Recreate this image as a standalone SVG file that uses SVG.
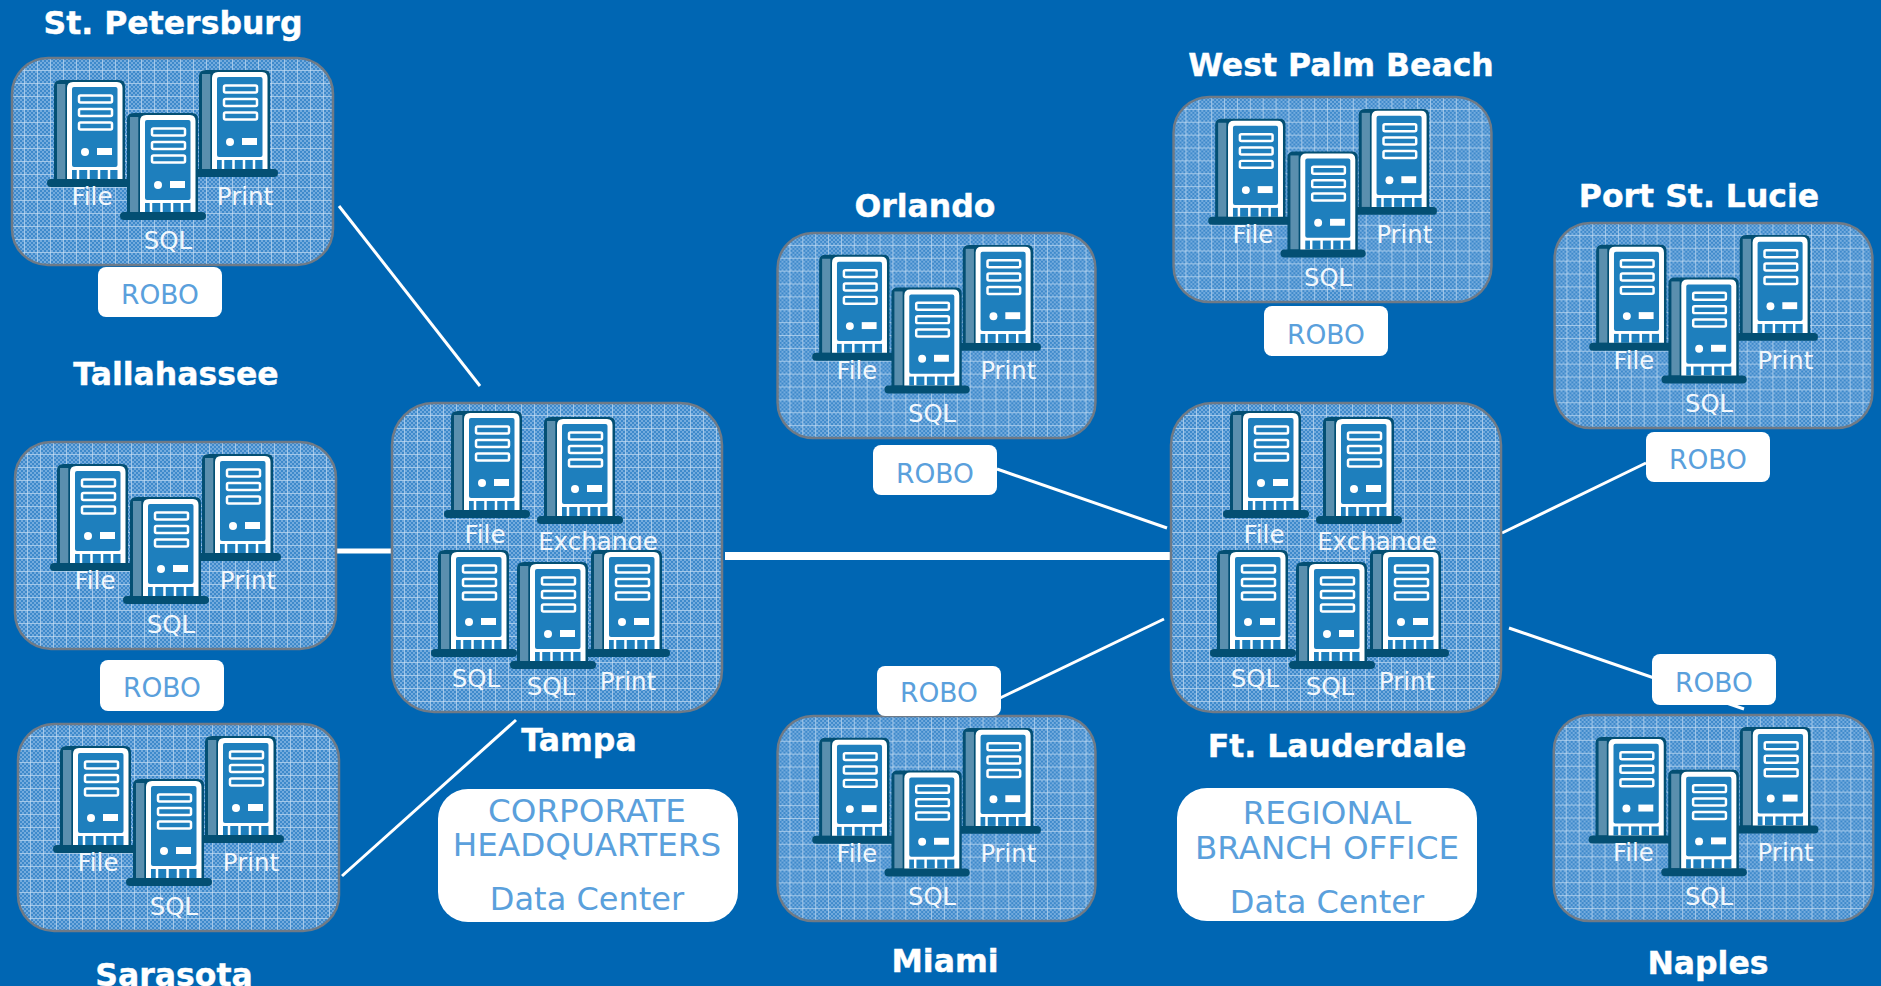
<svg xmlns="http://www.w3.org/2000/svg" width="1881" height="986" viewBox="0 0 1881 986">
<style>
text{font-family:"DejaVu Sans","Liberation Sans",sans-serif;text-anchor:middle}
.t{font-size:31.500px;font-weight:bold;fill:#fff;stroke:#fff;stroke-width:.4}
.l{font-size:24.500px;fill:#f2f7fc}
.r{font-size:26.500px;fill:#5aa0dc}
.b{font-size:32.600px;fill:#5aa0dc}
.d{font-size:32px;fill:#5aa0dc}
.panel{fill:url(#mesh);stroke:#6f7a86;stroke-width:2.500}
.robo{fill:#fff}
.c{stroke:#fff;fill:none;stroke-width:3}
</style>
<defs>
<pattern id="mesh" width="13" height="13" patternUnits="userSpaceOnUse">
<rect width="13" height="13" fill="#74abdd"/>
<path d="M0 0h2v2h-2zM4 0h2v2h-2zM8 0h2v2h-2zM2 2h2v2h-2zM6 2h2v2h-2zM10 2h2v2h-2zM0 4h2v2h-2zM4 4h2v2h-2zM8 4h2v2h-2zM2 6h2v2h-2zM6 6h2v2h-2zM10 6h2v2h-2zM0 8h2v2h-2zM4 8h2v2h-2zM8 8h2v2h-2zM2 10h2v2h-2zM6 10h2v2h-2zM10 10h2v2h-2z" fill="#3f8acb"/>
<path d="M12.500 0V13M0 12.500H13" stroke="#dcebf8" stroke-width="1" stroke-opacity=".45"/>
</pattern>
<symbol id="srv" width="86" height="107" viewBox="0 0 86 107" overflow="visible">
<path d="M7 107V6Q7 0 14 0H72Q78 0 78 6V100H7Z" fill="#034f73"/>
<rect x="10" y="4" width="8.300" height="95" fill="#5a8fae"/>
<path d="M20 100V8Q20 2 26 2H70Q75.500 2 75.500 8V100Z" fill="#fff"/>
<rect x="25" y="7" width="45.500" height="80" rx="2" fill="#1e7fbd"/>
<g fill="none" stroke="#fff" stroke-width="2.500">
<rect x="32" y="15.500" width="33" height="7" rx="1.500"/>
<rect x="32" y="29" width="33" height="7" rx="1.500"/>
<rect x="32" y="42.500" width="33" height="7" rx="1.500"/>
</g>
<circle cx="38" cy="72" r="4" fill="#fff"/>
<rect x="50" y="68" width="15" height="7" fill="#fff"/>
<rect x="25" y="90" width="45.500" height="9" fill="#1e7fbd"/>
<path d="M31 89V99M41.500 89V99M52 89V99M62 89V99" stroke="#fff" stroke-width="2.500"/>
<rect x="0" y="99" width="86" height="8" rx="4" fill="#034f73"/>
</symbol>
<symbol id="trio" width="321" height="207" viewBox="0 0 321 207" overflow="visible">
<rect class="panel" x="0" y="0" width="321" height="207" rx="36"/>
<use href="#srv" x="35" y="22" width="86" height="107"/>
<use href="#srv" x="180" y="12" width="86" height="107"/>
<use href="#srv" x="108" y="55" width="86" height="107"/>
<text class="l" x="80" y="147">File</text>
<text class="l" x="233" y="147">Print</text>
<text class="l" x="156" y="191">SQL</text>
</symbol>
<symbol id="five" width="330" height="309" viewBox="0 0 330 309" overflow="visible">
<rect class="panel" x="0" y="0" width="330" height="309" rx="42"/>
<use href="#srv" x="52" y="8" width="86" height="107"/>
<use href="#srv" x="145" y="14" width="86" height="107"/>
<text class="l" x="93" y="140">File</text>
<text class="l" x="206" y="147" clip-path="url(#exclip)">Exchange</text>
<use href="#srv" x="39" y="147" width="86" height="107"/>
<use href="#srv" x="192" y="147" width="86" height="107"/>
<use href="#srv" x="118" y="159" width="86" height="107"/>
<text class="l" x="84" y="284">SQL</text>
<text class="l" x="159" y="292">SQL</text>
<text class="l" x="236" y="287">Print</text>
</symbol>
<clipPath id="exclip"><rect x="140" y="110" width="140" height="38"/></clipPath>
</defs>
<rect width="1881" height="986" fill="#0066b3"/>
<g id="connectors">
<path class="c" d="M339 206L480 386"/>
<path class="c" style="stroke-width:5" d="M337 551H392"/>
<path class="c" d="M342 876L516 720"/>
<path class="c" style="stroke-width:8" d="M725 556H1170"/>
<path class="c" d="M997 469L1167 528"/>
<path class="c" d="M1000 698L1164 619"/>
<path class="c" d="M1502 533L1646 463"/>
<path class="c" d="M1509 628L1744 709"/>
</g>
<g id="st-petersburg"><use href="#trio" x="12" y="58" width="321" height="207"/><text class="t" x="173" y="34">St. Petersburg</text><rect class="robo" x="98" y="267" width="124" height="50" rx="8"/><text class="r" x="160" y="304">ROBO</text></g>
<g id="tallahassee"><use href="#trio" x="15" y="442" width="321" height="207"/><text class="t" x="176" y="385">Tallahassee</text><rect class="robo" x="100" y="660" width="124" height="51" rx="8"/><text class="r" x="162" y="697">ROBO</text></g>
<g id="sarasota"><use href="#trio" x="18" y="724" width="321" height="207"/><text class="t" x="174" y="986">Sarasota</text></g>
<g id="tampa"><use href="#five" x="392" y="403" width="330" height="309"/><text class="t" x="579" y="751">Tampa</text></g>
<g id="corporate-hq"><rect class="robo" x="438" y="789" width="300" height="133" rx="30"/><text class="b" x="587" y="822">CORPORATE</text><text class="b" x="587" y="856">HEADQUARTERS</text><text class="d" x="587" y="910">Data Center</text></g>
<g id="orlando"><use href="#trio" x="776" y="233" width="321" height="205"/><text class="t" x="925" y="217">Orlando</text><rect class="robo" x="873" y="445" width="124" height="50" rx="8"/><text class="r" x="935" y="483">ROBO</text></g>
<g id="miami"><use href="#trio" x="776" y="716" width="321" height="205"/><text class="t" x="945" y="972">Miami</text><rect class="robo" x="877" y="666" width="124" height="50" rx="8"/><text class="r" x="939" y="702">ROBO</text></g>
<g id="west-palm-beach"><use href="#trio" x="1172" y="97" width="321" height="205"/><text class="t" x="1341" y="76">West Palm Beach</text><rect class="robo" x="1264" y="306" width="124" height="50" rx="8"/><text class="r" x="1326" y="344">ROBO</text></g>
<g id="ft-lauderdale"><use href="#five" x="1171" y="403" width="330" height="309"/><text class="t" x="1337" y="757">Ft. Lauderdale</text></g>
<g id="regional-branch"><rect class="robo" x="1177" y="788" width="300" height="133" rx="30"/><text class="b" x="1327" y="824">REGIONAL</text><text class="b" x="1327" y="859">BRANCH OFFICE</text><text class="d" x="1327" y="913">Data Center</text></g>
<g id="port-st-lucie"><use href="#trio" x="1553" y="223" width="321" height="205"/><text class="t" x="1699" y="207">Port St. Lucie</text><rect class="robo" x="1646" y="432" width="124" height="50" rx="8"/><text class="r" x="1708" y="469">ROBO</text></g>
<g id="naples"><use href="#trio" x="1553" y="715" width="321" height="206"/><text class="t" x="1708" y="974">Naples</text><rect class="robo" x="1652" y="654" width="124" height="51" rx="8"/><text class="r" x="1714" y="692">ROBO</text></g>
</svg>
